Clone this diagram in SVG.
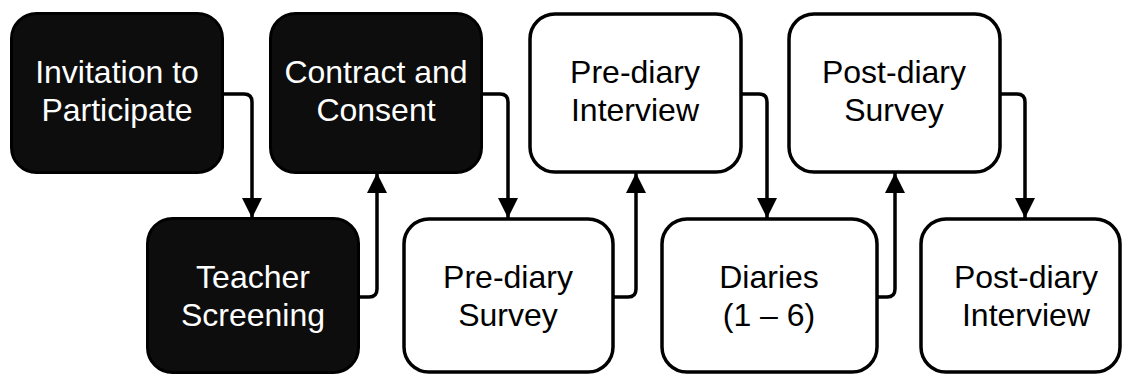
<svg xmlns="http://www.w3.org/2000/svg" width="1122" height="376" viewBox="0 0 1122 376">
<defs>
<style>
.dark rect{fill:#0d0d0d;stroke:#000;stroke-width:3}
.light rect{fill:#fff;stroke:#000;stroke-width:3.5}
.dark text{fill:#fff}
.light text{fill:#000}
text{font-family:"Liberation Sans",Arial,sans-serif;font-size:32px;text-anchor:middle}
#connectors path{fill:none;stroke:#000;stroke-width:3.5;marker-end:url(#arr)}
</style>
<marker id="arr" viewBox="0 0 10 10" refX="10" refY="5" markerUnits="userSpaceOnUse" markerWidth="20" markerHeight="22" orient="auto">
<path d="M0,0 L10,5 L0,10 z" fill="#000"/>
</marker>
</defs>
<rect width="1122" height="376" fill="#fff"/>
<g id="connectors">
<path d="M223,94 H244 Q252,94 252,102 V218"/>
<path d="M359,297 H369 Q377,297 377,289 V173"/>
<path d="M482,94 H500 Q508,94 508,102 V218"/>
<path d="M613,297 H628 Q636,297 636,289 V173"/>
<path d="M741,94 H759 Q767,94 767,102 V218"/>
<path d="M877,297 H887 Q895,297 895,289 V173"/>
<path d="M1000,94 H1017 Q1025,94 1025,102 V218"/>
</g>
<g id="invitation" class="dark">
<rect x="11.5" y="13.5" width="211" height="159" rx="25"/>
<text x="117" y="83">Invitation to</text>
<text x="117" y="121">Participate</text>
</g>
<g id="contract" class="dark">
<rect x="270.5" y="13.5" width="211" height="159" rx="25"/>
<text x="376" y="83">Contract and</text>
<text x="376" y="121">Consent</text>
</g>
<g id="preInterview" class="light">
<rect x="530" y="14" width="211" height="158" rx="25"/>
<text x="635" y="83">Pre-diary</text>
<text x="635" y="121">Interview</text>
</g>
<g id="postSurvey" class="light">
<rect x="789" y="14" width="211" height="158" rx="25"/>
<text x="894" y="83">Post-diary</text>
<text x="894" y="121">Survey</text>
</g>
<g id="teacher" class="dark">
<rect x="147.5" y="218.5" width="211" height="154" rx="25"/>
<text x="253" y="288">Teacher</text>
<text x="253" y="326">Screening</text>
</g>
<g id="preSurvey" class="light">
<rect x="404" y="219" width="209" height="153" rx="25"/>
<text x="508" y="288">Pre-diary</text>
<text x="508" y="326">Survey</text>
</g>
<g id="diaries" class="light">
<rect x="662" y="219" width="215" height="153" rx="25"/>
<text x="769" y="288">Diaries</text>
<text x="769" y="326">(1 – 6)</text>
</g>
<g id="postInterview" class="light">
<rect x="921" y="219" width="199" height="153" rx="25"/>
<text x="1026" y="288">Post-diary</text>
<text x="1026" y="326">Interview</text>
</g>
</svg>
